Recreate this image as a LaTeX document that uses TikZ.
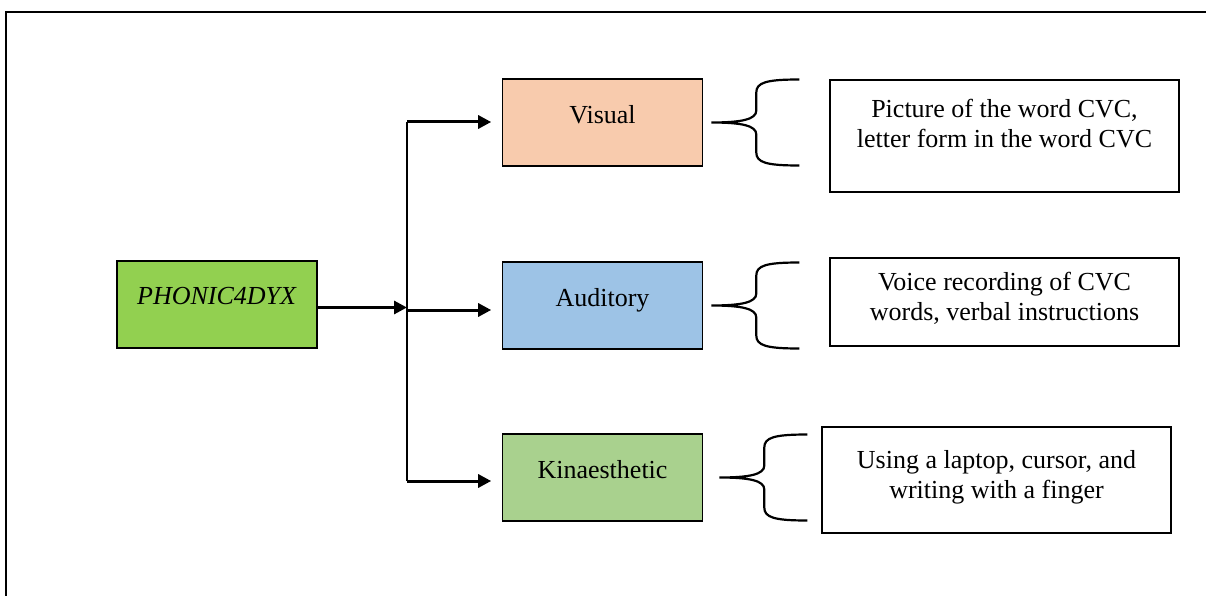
\documentclass[tikz,border=0pt]{standalone}
\usepackage{fontspec}
\setmainfont{Liberation Serif}
\usetikzlibrary{arrows.meta}

\definecolor{phonicgreen}{HTML}{92D050}
\definecolor{visualpeach}{HTML}{F8CBAD}
\definecolor{auditoryblue}{HTML}{9DC3E6}
\definecolor{kinaesgreen}{HTML}{A9D18E}

\begin{document}
\begin{tikzpicture}[
  x=1pt, y=-1pt,
  every node/.style={draw, line width=1.6pt, align=center, font=\fontsize{26}{30}\selectfont},
  mode/.style={minimum width=200pt, minimum height=87pt, text depth=17pt},
  desc/.style={minimum width=349pt},
  arrow/.style={-{Triangle[length=13pt,width=13pt]}, line width=3pt},
  brc/.pic={
    \draw[line width=2.2pt] (88,-43) .. controls (55,-43) and (45,-40) .. (45,-30) -- (45,-12)
      .. controls (45,-3) and (30,0) .. (0,0) .. controls (30,0) and (45,3) .. (45,12) -- (45,30)
      .. controls (45,40) and (55,43) .. (88,43);
  }
]
\useasboundingbox (0,0) rectangle (1206,596);
\draw[line width=2.5pt] (6,596) |- (1206,12);

\node[mode, fill=phonicgreen] (phonic) at (217,304.5) {\textit{PHONIC4DYX}};
\node[mode, fill=visualpeach] (vis) at (602.5,122.5) {Visual};
\node[mode, fill=auditoryblue] (aud) at (602.5,305.5) {Auditory};
\node[mode, fill=kinaesgreen] (kin) at (602.5,477.5) {Kinaesthetic};

\node[desc, minimum height=112pt, text depth=25pt] (visdesc) at (1004.5,136) {Picture of the word CVC,\\letter form in the word CVC};
\node[desc, minimum height=88pt, text depth=11pt] (auddesc) at (1004.5,302) {Voice recording of CVC\\words, verbal instructions};
\node[desc, minimum height=106pt, text depth=12pt] (kindesc) at (996.5,480) {Using a laptop, cursor, and\\writing with a finger};

% branching lines
\coordinate (top) at (407,122);
\coordinate (mid) at (407,310);
\coordinate (bot) at (407,481);
\draw[arrow] ([yshift=-3pt]phonic.east) -- ([yshift=-3pt]phonic.east -| mid);
\draw[line width=2pt] (top) -- (bot);
\draw[arrow, shorten >=10.5pt] (top) -- (top -| vis.west);
\draw[arrow, shorten >=10.5pt] (mid) -- (mid -| aud.west);
\draw[arrow, shorten >=10.5pt] (bot) -- (bot -| kin.west);

% braces
\pic at ([xshift=8pt]vis.east) {brc};
\pic at ([xshift=8pt]aud.east) {brc};
\pic at ([xshift=16pt]kin.east) {brc};
\end{tikzpicture}
\end{document}
